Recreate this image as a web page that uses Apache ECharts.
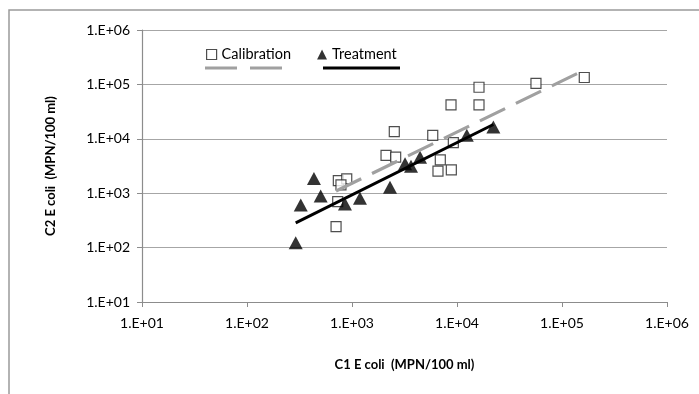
<!DOCTYPE html>
<html>
<head>
<meta charset="utf-8">
<script src="https://cdn.jsdelivr.net/npm/echarts@6/dist/echarts.min.js"></script>
<style>
html,body{margin:0;padding:0;background:#fff;}
#c{width:699px;height:394px;}
</style>
</head>
<body>
<div id="c"></div>
<script>
// Calibration points: [C1, C2]
var calibX = [705, 731, 741, 891, 785, 2109, 2606, 2528, 5875, 6934, 6590, 8831, 9227, 8770, 16200, 16200, 56500, 163000];
var calibY = [242, 700, 1706, 1836, 1422, 4943, 4590, 13500, 11600, 4114, 2535, 2692, 8473, 41900, 41900, 88700, 104000, 134000];
// Treatment points
var treatX = [291, 325, 434, 503, 857, 1191, 2301, 3200, 3648, 4446, 12400, 22200];
var treatY = [123, 608, 1857, 891, 635, 805, 1286, 3475, 3134, 4590, 11600, 16400];
// Trendline end points
var calibTrendX = [705, 163000];
var calibTrendY = [1100, 183000];
var treatTrendX = [291, 22200];
var treatTrendY = [285, 18300];
var xTicks = ['1.E+01','1.E+02','1.E+03','1.E+04','1.E+05','1.E+06'];
var yTicks = ['1.E+01','1.E+02','1.E+03','1.E+04','1.E+05','1.E+06'];

function zip(a, b){ return a.map(function(v,i){ return [v, b[i]]; }); }
function tickLabel(list){
  return function(v){
    var e = Math.round(Math.log(v)/Math.LN10);
    return list[e-1] || '';
  };
}
var FONT = 'Lato, "Open Sans", sans-serif';
var chart = echarts.init(document.getElementById('c'), null, {renderer:'canvas'});
chart.setOption({
  animation:false,
  backgroundColor:'#fff',
  grid:{left:142, right:32, top:30, bottom:92},
  legend:{
    left:201, top:42, itemGap:26, itemWidth:10, itemHeight:10,
    textStyle:{fontFamily:FONT, fontSize:14.5, color:'#000'},
    data:[
      {name:'Calibration', icon:'rect', itemStyle:{color:'#fff', borderColor:'#222', borderWidth:1.2}},
      {name:'Treatment', icon:'triangle', itemStyle:{color:'#000'}}
    ]
  },
  xAxis:{
    type:'log', logBase:10, min:10, max:1e6,
    name:'C1 E coli  (MPN/100 ml)', nameLocation:'middle', nameGap:56,
    nameTextStyle:{fontFamily:FONT, fontSize:13, fontWeight:'bold', color:'#000'},
    axisLine:{show:true, lineStyle:{color:'#8c8c8c', width:1.2}},
    axisTick:{show:true, length:5, lineStyle:{color:'#8c8c8c'}},
    axisLabel:{fontFamily:FONT, fontSize:14, color:'#000', margin:14, formatter:tickLabel(xTicks)},
    splitLine:{show:false},
    minorTick:{show:false}
  },
  yAxis:{
    type:'log', logBase:10, min:10, max:1e6,
    name:'C2 E coli  (MPN/100 ml)', nameLocation:'middle', nameGap:85, nameRotate:90,
    nameTextStyle:{fontFamily:FONT, fontSize:13, fontWeight:'bold', color:'#000'},
    axisLine:{show:true, lineStyle:{color:'#8c8c8c', width:1.2}},
    axisTick:{show:true, length:5, lineStyle:{color:'#8c8c8c'}},
    axisLabel:{fontFamily:FONT, fontSize:14, color:'#000', margin:12, formatter:tickLabel(yTicks)},
    splitLine:{show:true, lineStyle:{color:'#a6a6a6', width:1.2}}
  },
  series:[
    {name:'Calibration', type:'scatter', symbol:'rect', symbolSize:10, z:2,
     itemStyle:{color:'#fff', borderColor:'#222', borderWidth:1.2},
     data:zip(calibX, calibY)},
    {name:'Treatment', type:'scatter', symbol:'triangle', symbolSize:[14,13], z:3,
     itemStyle:{color:'#000'},
     data:zip(treatX, treatY)},
    {name:'calTrend', type:'line', showSymbol:false, z:4, silent:true,
     lineStyle:{color:'#a0a0a0', width:3.2, type:[28,12]},
     data:zip(calibTrendX, calibTrendY)},
    {name:'trtTrend', type:'line', showSymbol:false, z:5, silent:true,
     lineStyle:{color:'#000', width:3},
     data:zip(treatTrendX, treatTrendY)}
  ],
  graphic:[
    {type:'rect', shape:{x:9, y:10, width:720, height:420}, style:{fill:null, stroke:'#9a9a9a', lineWidth:1.5}, silent:true},
    {type:'line', shape:{x1:205, y1:68, x2:282, y2:68}, style:{stroke:'#a0a0a0', lineWidth:3, lineDash:[32,13]}},
    {type:'line', shape:{x1:323, y1:68, x2:400, y2:68}, style:{stroke:'#000', lineWidth:3}}
  ]
});
</script>
</body>
</html>
